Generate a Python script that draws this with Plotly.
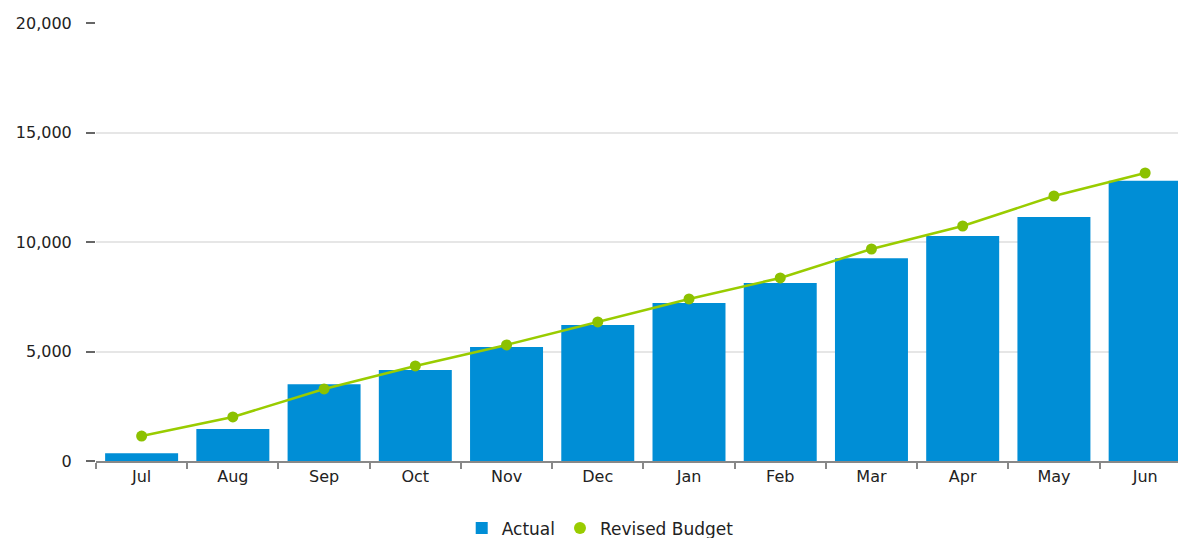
import plotly.graph_objects as go

months = ["Jul", "Aug", "Sep", "Oct", "Nov", "Dec", "Jan", "Feb", "Mar", "Apr", "May", "Jun"]
actual = [350, 1460, 3510, 4150, 5200, 6210, 7210, 8130, 9260, 10270, 11140, 12800]
revised_budget = [1140, 2010, 3290, 4340, 5300, 6350, 7400, 8360, 9680, 10730, 12100, 13150]

BLUE = "#008ED6"
GREEN = "#99CC00"
MARKER_GREEN = "#8CC100"
FONT = "DejaVu Sans, Liberation Sans, Arial, sans-serif"

fig = go.Figure()
fig.add_trace(go.Bar(
    x=months, y=actual, name="Actual",
    marker=dict(color=BLUE, line=dict(width=0)),
))
fig.add_trace(go.Scatter(
    x=months, y=revised_budget, name="Revised Budget",
    mode="lines+markers",
    line=dict(color=GREEN, width=2.5),
    marker=dict(color=MARKER_GREEN, size=11),
    showlegend=False,
))
# legend entry (marker only)
fig.add_trace(go.Scatter(
    x=[None], y=[None], name="Revised Budget", mode="markers",
    marker=dict(color=GREEN, size=15),
))

fig.update_layout(
    width=1178, height=538,
    margin=dict(l=96, r=0, t=23, b=77, autoexpand=False),
    plot_bgcolor="white", paper_bgcolor="white",
    font=dict(family=FONT, size=16, color="#222"),
    bargap=0.2,
    showlegend=True,
    legend=dict(orientation="h", x=0.466, xanchor="center", y=-0.154, yanchor="middle",
                font=dict(family=FONT, size=17, color="#222"), itemsizing="constant"),
    xaxis=dict(
        type="category", range=[-0.5, 11.36], automargin=False,
        showline=True, linecolor="#888", linewidth=1.5,
        ticks="outside", tickson="boundaries", ticklen=6, tickcolor="#888", tickwidth=1.5,
        showgrid=False, tickfont=dict(family=FONT, size=16, color="#222"),
    ),
    yaxis=dict(
        range=[0, 20000], tickvals=[0, 5000, 10000, 15000, 20000],
        tickformat=",d", automargin=False,
        showgrid=True, gridcolor="#E6E6E6", gridwidth=1.5,
        zeroline=False, showline=False,
        ticks="outside", ticklen=9, tickcolor="#666", tickwidth=1.5,
        ticklabelstandoff=11,
        tickfont=dict(family=FONT, size=16, color="#222"),
    ),
)

fig.write_html("out.html")
